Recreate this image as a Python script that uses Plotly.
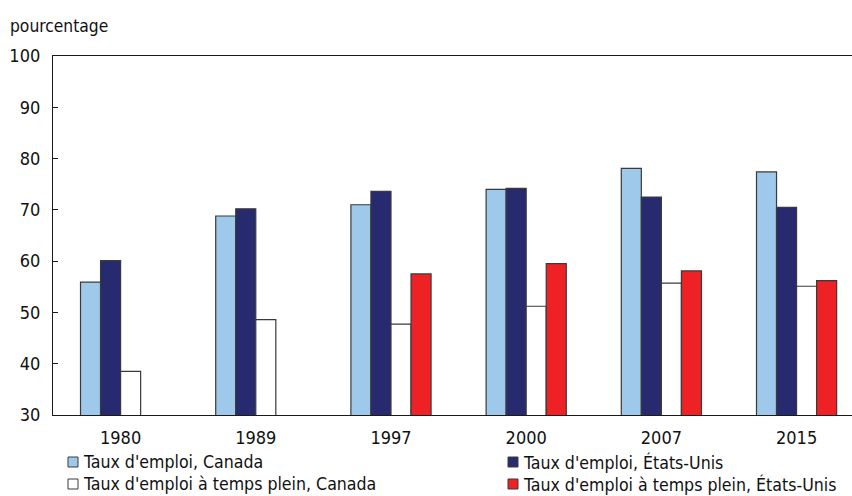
import plotly.graph_objects as go

# Employment rates, Canada vs United States (percent)
years = ["1980", "1989", "1997", "2000", "2007", "2015"]
emploi_canada = [55.9, 68.8, 71.0, 74.0, 78.1, 77.4]
emploi_eu = [60.1, 70.2, 73.6, 74.2, 72.5, 70.5]
plein_canada = [38.5, 48.6, 47.7, 51.2, 55.7, 55.1]
plein_eu = [None, None, 57.5, 59.5, 58.1, 56.2]

series_names = [
    "Taux d'emploi, Canada",
    "Taux d'emploi, États-Unis",
    "Taux d'emploi à temps plein, Canada",
    "Taux d'emploi à temps plein, États-Unis",
]
series_values = [emploi_canada, emploi_eu, plein_canada, plein_eu]
series_colors = ["#9ec9ea", "#272a6e", "#ffffff", "#ee2124"]

FONT = "Liberation Sans Narrow, Arial Narrow, DejaVu Sans Condensed, sans-serif"
OUTLINE = "#3a3a3a"
TEXT = "#111111"

fig = go.Figure()
for name, vals, col in zip(series_names, series_values, series_colors):
    fig.add_trace(go.Bar(
        x=years, y=vals, name=name, showlegend=False,
        marker=dict(color=col, line=dict(color=OUTLINE, width=1.2)),
    ))

# plot area in pixels (for placing the legend below)
L, R, T, B = 53, 852, 56, 415
W, H = R - L, B - T


def px_x(p):
    return (p - L) / W


def px_y(p):
    return (B - p) / H


# legend: two columns, two rows
legend_pos = [(68, 462), (508, 462), (68, 484), (508, 484)]
for (lx, ly), name, col in zip(legend_pos, series_names, series_colors):
    fig.add_shape(type="rect", xref="paper", yref="paper",
                  x0=px_x(lx), x1=px_x(lx + 10), y0=px_y(ly + 5), y1=px_y(ly - 5),
                  fillcolor=col, line=dict(color=OUTLINE, width=1))
    fig.add_annotation(text=name, xref="paper", yref="paper",
                       x=px_x(lx + 13), y=px_y(ly), xanchor="left", yanchor="middle",
                       showarrow=False, font=dict(size=17.6, color=TEXT, family=FONT))

fig.add_annotation(text="pourcentage", xref="paper", yref="paper",
                   x=px_x(8), y=px_y(26), xanchor="left", yanchor="middle",
                   showarrow=False, font=dict(size=17.3, color=TEXT, family=FONT))

fig.update_layout(
    width=852, height=496,
    margin=dict(l=L, r=852 - R, t=T, b=496 - B),
    paper_bgcolor="white", plot_bgcolor="white",
    barmode="group", bargap=0.407, bargroupgap=0,
    font=dict(family=FONT, size=18, color=TEXT),
)
fig.update_xaxes(
    type="category", range=[-0.5, 5.41],
    showline=True, linecolor="#1a1a1a", linewidth=1.3, mirror=True,
    showgrid=False, ticks="", ticklabelstandoff=6,
    tickfont=dict(size=18, family=FONT),
)
fig.update_yaxes(
    range=[30, 100], dtick=10, tick0=30,
    showline=True, linecolor="#1a1a1a", linewidth=1.3,
    showgrid=False, zeroline=False,
    ticks="inside", ticklen=5, tickcolor="#1a1a1a",
    ticklabelstandoff=8, tickfont=dict(size=18, family=FONT),
)

fig.write_html("out.html")
